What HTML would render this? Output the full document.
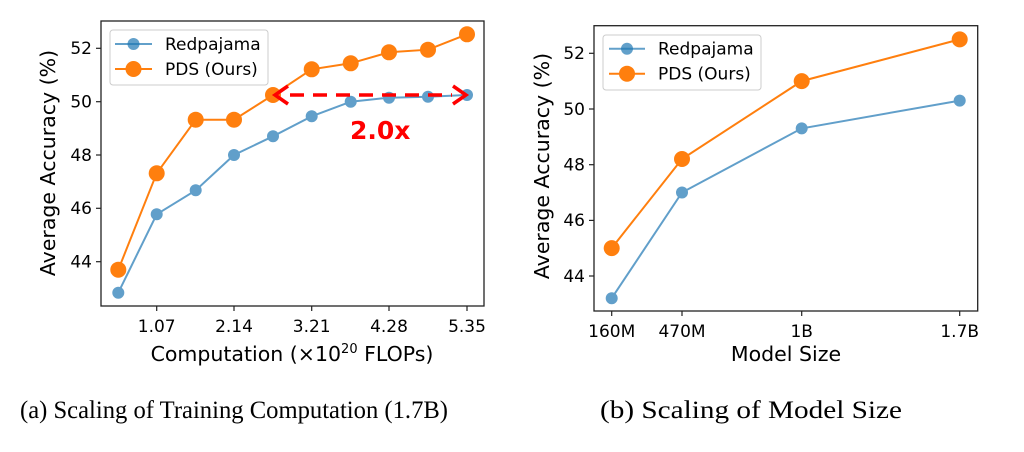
<!DOCTYPE html>
<html><head><meta charset="utf-8"><style>
html,body{margin:0;padding:0;background:#fff;}
svg text{font-family:"DejaVu Sans","Liberation Sans",sans-serif;fill:#000;}
</style></head><body>
<svg width="1024" height="447" viewBox="0 0 1024 447" xmlns="http://www.w3.org/2000/svg">
<!-- LEFT PLOT -->
<g>
<rect x="101" y="21" width="383" height="285" fill="none" stroke="#222" stroke-width="1.3"/>
<g stroke="#222" stroke-width="1.2">
<line x1="101" y1="48.3" x2="96" y2="48.3"/><line x1="101" y1="101.7" x2="96" y2="101.7"/><line x1="101" y1="155" x2="96" y2="155"/><line x1="101" y1="208.3" x2="96" y2="208.3"/><line x1="101" y1="261.7" x2="96" y2="261.7"/>
<line x1="156.7" y1="306" x2="156.7" y2="311"/><line x1="234" y1="306" x2="234" y2="311"/><line x1="311.7" y1="306" x2="311.7" y2="311"/><line x1="389" y1="306" x2="389" y2="311"/><line x1="467" y1="306" x2="467" y2="311"/>
</g>
<g font-size="17" text-anchor="end">
<text x="92" y="54">52</text><text x="92" y="107.5">50</text><text x="92" y="161">48</text><text x="92" y="214">46</text><text x="92" y="267.5">44</text>
</g>
<g font-size="17" text-anchor="middle">
<text x="156.7" y="332">1.07</text><text x="234" y="332">2.14</text><text x="311.7" y="332">3.21</text><text x="389" y="332">4.28</text><text x="467" y="332">5.35</text>
<text x="292" y="361" font-size="20.5">Computation (×10<tspan dy="-8" font-size="13">20</tspan><tspan dy="8"> FLOPs)</tspan></text>
</g>
<text transform="translate(55,163) rotate(-90)" font-size="20.5" text-anchor="middle">Average Accuracy (%)</text>
<g opacity="0.7">
<polyline fill="none" stroke="#1f77b4" stroke-width="2" points="118.3,292.7 156.7,214.3 195.7,190.3 234,155 273,136.3 311.7,116.3 350.7,101.7 389,97.7 428,96.7 467,95"/>
<g fill="#1f77b4"><circle cx="118.3" cy="292.7" r="6"/><circle cx="156.7" cy="214.3" r="6"/><circle cx="195.7" cy="190.3" r="6"/><circle cx="234" cy="155" r="6"/><circle cx="273" cy="136.3" r="6"/><circle cx="311.7" cy="116.3" r="6"/><circle cx="350.7" cy="101.7" r="6"/><circle cx="389" cy="97.7" r="6"/><circle cx="428" cy="96.7" r="6"/><circle cx="467" cy="95" r="6"/></g>
</g>
<polyline fill="none" stroke="#ff7f0e" stroke-width="2" points="118.3,269.7 156.7,173.3 195.7,119.7 234,119.7 273,95 311.7,69.3 350.7,63.3 389,52.3 428,49.7 467,34.3"/>
<g fill="#ff7f0e"><circle cx="118.3" cy="269.7" r="8"/><circle cx="156.7" cy="173.3" r="8"/><circle cx="195.7" cy="119.7" r="8"/><circle cx="234" cy="119.7" r="8"/><circle cx="273" cy="95" r="8"/><circle cx="311.7" cy="69.3" r="8"/><circle cx="350.7" cy="63.3" r="8"/><circle cx="389" cy="52.3" r="8"/><circle cx="428" cy="49.7" r="8"/><circle cx="467" cy="34.3" r="8"/></g>
<line x1="290" y1="95" x2="452" y2="95" stroke="#ff0000" stroke-width="3.5" stroke-dasharray="14,9"/>
<polyline fill="none" stroke="#ff0000" stroke-width="3.5" points="288,86 275,95 288,104"/>
<polyline fill="none" stroke="#ff0000" stroke-width="3.5" points="453,86 466,95 453,104"/>
<text x="350" y="139" font-size="25" font-weight="bold" style="fill:#ff0000">2.0x</text>
<rect x="110" y="30" width="158" height="55" rx="3" fill="#fff" fill-opacity="0.8" stroke="#ccc"/>
<line x1="115" y1="44" x2="152" y2="44" stroke="#1f77b4" stroke-opacity="0.7" stroke-width="2"/><circle cx="133.5" cy="44" r="6" fill="#1f77b4" fill-opacity="0.7"/>
<line x1="115" y1="69" x2="152" y2="69" stroke="#ff7f0e" stroke-width="2"/><circle cx="133.5" cy="69" r="8" fill="#ff7f0e"/>
<text x="165" y="50" font-size="17">Redpajama</text><text x="165" y="75" font-size="17">PDS (Ours)</text>
</g>
<!-- RIGHT PLOT -->
<g>
<rect x="594" y="25.7" width="383.7" height="285.3" fill="none" stroke="#222" stroke-width="1.3"/>
<g stroke="#222" stroke-width="1.2">
<line x1="594" y1="53.3" x2="589" y2="53.3"/><line x1="594" y1="109" x2="589" y2="109"/><line x1="594" y1="164.7" x2="589" y2="164.7"/><line x1="594" y1="220.4" x2="589" y2="220.4"/><line x1="594" y1="276" x2="589" y2="276"/>
<line x1="611.7" y1="311" x2="611.7" y2="316"/><line x1="682" y1="311" x2="682" y2="316"/><line x1="801.7" y1="311" x2="801.7" y2="316"/><line x1="959.7" y1="311" x2="959.7" y2="316"/>
</g>
<g font-size="17" text-anchor="end">
<text x="585" y="59">52</text><text x="585" y="115">50</text><text x="585" y="170.5">48</text><text x="585" y="226">46</text><text x="585" y="282">44</text>
</g>
<g font-size="17" text-anchor="middle">
<text x="611.7" y="337">160M</text><text x="682" y="337">470M</text><text x="801.7" y="337">1B</text><text x="959.7" y="337">1.7B</text>
<text x="786" y="361" font-size="20.5">Model Size</text>
</g>
<text transform="translate(549,166) rotate(-90)" font-size="20.5" text-anchor="middle">Average Accuracy (%)</text>
<g opacity="0.7">
<polyline fill="none" stroke="#1f77b4" stroke-width="2" points="611.7,298.2 682,192.5 801.7,128.4 959.7,100.6"/>
<g fill="#1f77b4"><circle cx="611.7" cy="298.2" r="6"/><circle cx="682" cy="192.5" r="6"/><circle cx="801.7" cy="128.4" r="6"/><circle cx="959.7" cy="100.6" r="6"/></g>
</g>
<polyline fill="none" stroke="#ff7f0e" stroke-width="2" points="611.7,248.1 682,159 801.7,81.1 959.7,39.4"/>
<g fill="#ff7f0e"><circle cx="611.7" cy="248.1" r="8"/><circle cx="682" cy="159" r="8"/><circle cx="801.7" cy="81.1" r="8"/><circle cx="959.7" cy="39.4" r="8"/></g>
<rect x="603" y="35" width="158" height="55" rx="3" fill="#fff" fill-opacity="0.8" stroke="#ccc"/>
<line x1="609" y1="48.7" x2="645" y2="48.7" stroke="#1f77b4" stroke-opacity="0.7" stroke-width="2"/><circle cx="627" cy="48.7" r="6" fill="#1f77b4" fill-opacity="0.7"/>
<line x1="609" y1="73.7" x2="645" y2="73.7" stroke="#ff7f0e" stroke-width="2"/><circle cx="627" cy="73.7" r="8" fill="#ff7f0e"/>
<text x="658" y="54.5" font-size="17">Redpajama</text><text x="658" y="79.5" font-size="17">PDS (Ours)</text>
</g>
<text x="20" y="418" font-size="25" textLength="428" lengthAdjust="spacingAndGlyphs" style="font-family:'Liberation Serif',serif">(a)  Scaling of Training Computation (1.7B)</text>
<text x="600" y="418" font-size="25" textLength="302" lengthAdjust="spacingAndGlyphs" style="font-family:'Liberation Serif',serif">(b)  Scaling of Model Size</text>
</svg>
</body></html>
